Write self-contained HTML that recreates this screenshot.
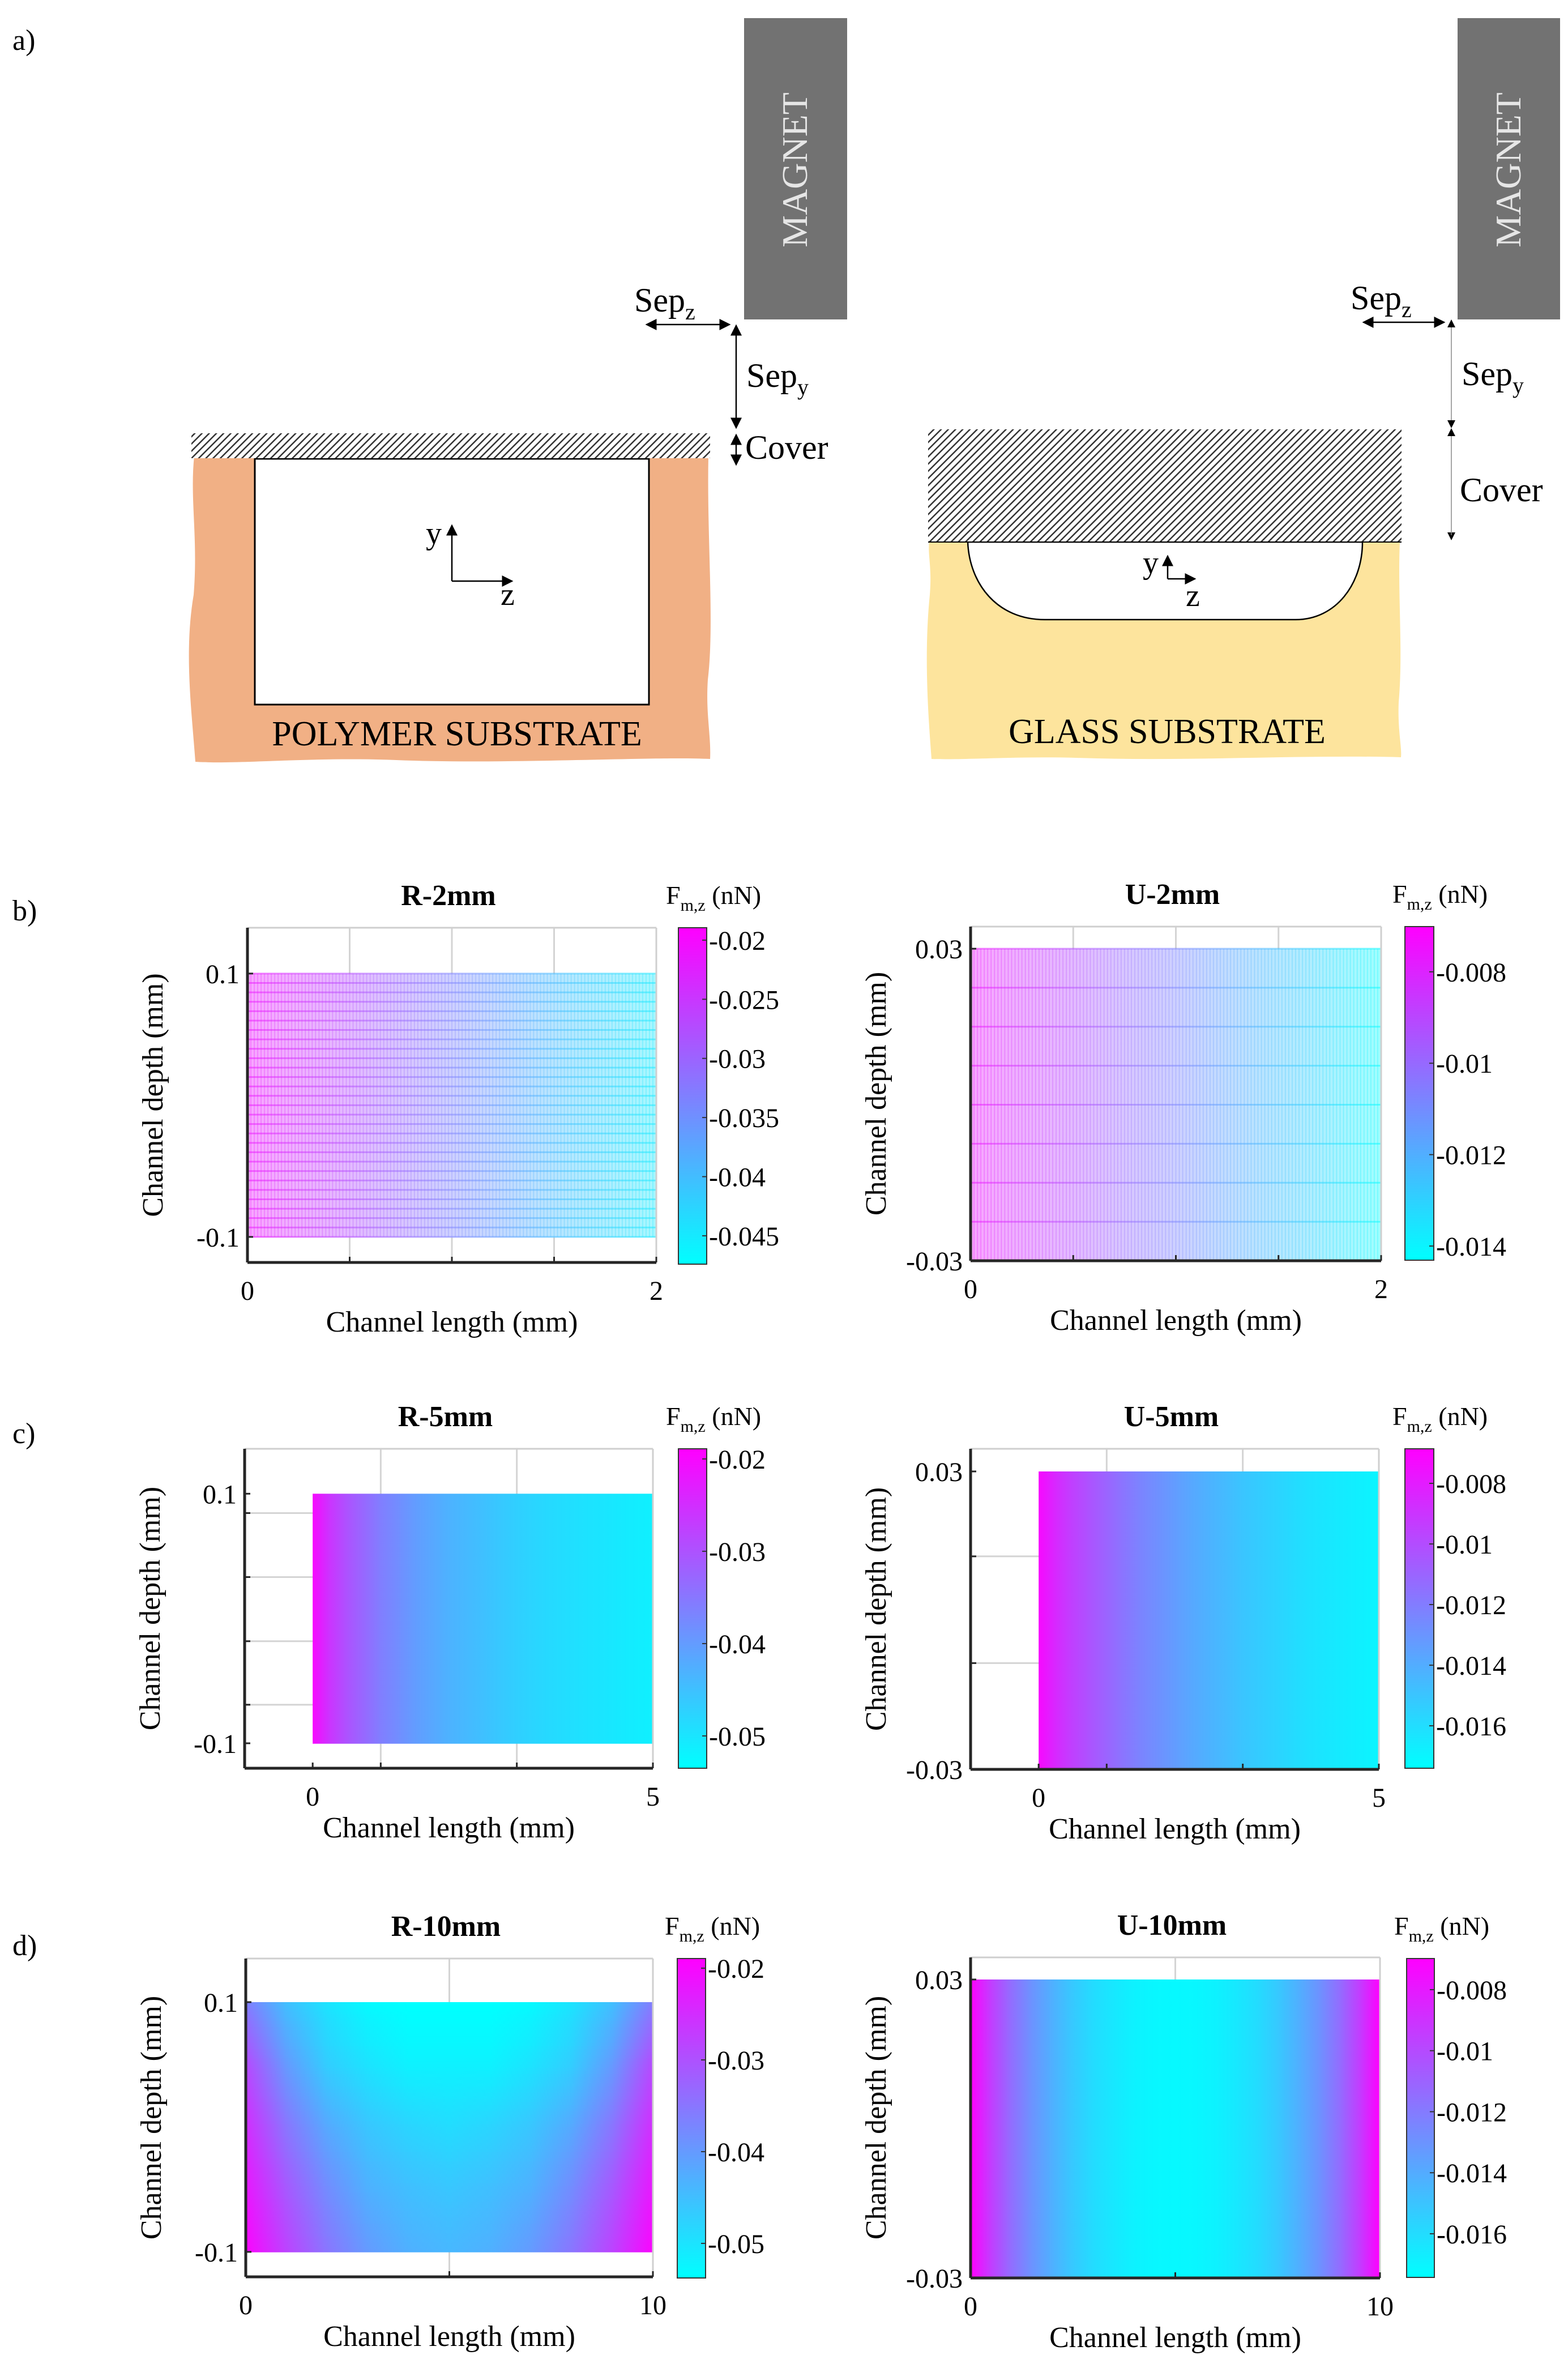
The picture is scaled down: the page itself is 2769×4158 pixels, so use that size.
<!DOCTYPE html>
<html><head><meta charset="utf-8">
<style>
html,body{margin:0;padding:0;background:#fff;}
svg{display:block;font-family:"Liberation Serif",serif;}
</style></head>
<body>
<svg id="fig" xmlns="http://www.w3.org/2000/svg" width="2769" height="4158" viewBox="0 0 2769 4158">
<defs>
<pattern id="hatch" width="9" height="9" patternUnits="userSpaceOnUse" patternTransform="rotate(45)">
<rect width="9" height="9" fill="#fff"/><line x1="0" y1="0" x2="0" y2="9" stroke="#333" stroke-width="5"/>
</pattern>
<marker id="ah" markerWidth="8" markerHeight="8" refX="7" refY="4" orient="auto-start-reverse" markerUnits="strokeWidth">
<path d="M0,0 L8,4 L0,8 z" fill="#000"/>
</marker>
</defs>
<rect width="2769" height="4158" fill="#fff"/>

<text x="22" y="88" font-size="52">a)</text>
<g>
<path d="M343,805 L1251,805 C1248,950 1262,1100 1250,1200 C1246,1260 1256,1300 1254,1340 C1150,1335 900,1350 700,1342 C550,1336 420,1350 345,1345 C338,1250 325,1150 342,1050 C350,950 335,880 343,805 Z" fill="#f1b085"/>
<rect x="450" y="810" width="696" height="434" fill="#fff" stroke="#000" stroke-width="3"/>
<rect x="338" y="765" width="916" height="44" fill="url(#hatch)"/>
<text x="807" y="1316" font-size="62" text-anchor="middle">POLYMER SUBSTRATE</text>
<line x1="798" y1="1026" x2="798" y2="928" stroke="#000" stroke-width="2.5" marker-end="url(#ah)"/>
<line x1="798" y1="1026" x2="904" y2="1026" stroke="#000" stroke-width="2.5" marker-end="url(#ah)"/>
<text x="752" y="960" font-size="56">y</text>
<text x="884" y="1068" font-size="56">z</text>
<rect x="1314" y="32" width="182" height="532" fill="#727272"/>
<text transform="translate(1425,300) rotate(-90)" font-size="64" fill="#e6e6e6" text-anchor="middle">MAGNET</text>
<line x1="1142" y1="573" x2="1288" y2="573" stroke="#000" stroke-width="2.5" marker-start="url(#ah)" marker-end="url(#ah)"/>
<line x1="1300" y1="575" x2="1300" y2="755" stroke="#000" stroke-width="2.5" marker-start="url(#ah)" marker-end="url(#ah)"/>
<line x1="1300" y1="768" x2="1300" y2="820" stroke="#000" stroke-width="2.5" marker-start="url(#ah)" marker-end="url(#ah)"/>
<text x="1120" y="550" font-size="60">Sep<tspan font-size="40" dy="14">z</tspan></text>
<text x="1318" y="683" font-size="60">Sep<tspan font-size="40" dy="14">y</tspan></text>
<text x="1316" y="810" font-size="60">Cover</text>
</g>

<g>
<path d="M1641,957 L2472,957 C2468,1050 2478,1150 2470,1240 C2468,1290 2476,1320 2474,1337 C2300,1332 2100,1345 1900,1338 C1800,1335 1700,1342 1645,1340 C1638,1250 1632,1150 1642,1050 C1646,1000 1638,980 1641,957 Z" fill="#fde49d"/>
<path d="M1709,957 L2406,957 C2406,1030 2360,1094 2288,1094 L1845,1094 C1760,1094 1712,1030 1709,957 Z" fill="#fff" stroke="#000" stroke-width="2.5"/>
<rect x="1639" y="758" width="836" height="199" fill="url(#hatch)"/>
<line x1="1639" y1="957" x2="2475" y2="957" stroke="#000" stroke-width="2"/>
<text x="2061" y="1312" font-size="62" text-anchor="middle">GLASS SUBSTRATE</text>
<line x1="2062" y1="1022" x2="2062" y2="982" stroke="#000" stroke-width="2.5" marker-end="url(#ah)"/>
<line x1="2062" y1="1022" x2="2110" y2="1022" stroke="#000" stroke-width="2.5" marker-end="url(#ah)"/>
<text x="2018" y="1012" font-size="56">y</text>
<text x="2094" y="1070" font-size="56">z</text>
<rect x="2574" y="32" width="181" height="532" fill="#727272"/>
<text transform="translate(2685,300) rotate(-90)" font-size="64" fill="#e6e6e6" text-anchor="middle">MAGNET</text>
<line x1="2408" y1="569" x2="2550" y2="569" stroke="#000" stroke-width="2.5" marker-start="url(#ah)" marker-end="url(#ah)"/>
<line x1="2563" y1="571" x2="2563" y2="750" stroke="#888" stroke-width="1.5"/>
<path d="M2556,742 L2570,742 L2563,756 Z M2556,770 L2570,770 L2563,756 Z M2556,940 L2570,940 L2563,954 Z M2556,578 L2570,578 L2563,564 Z" fill="#000"/>
<line x1="2563" y1="770" x2="2563" y2="945" stroke="#888" stroke-width="1.5"/>
<text x="2385" y="546" font-size="60">Sep<tspan font-size="40" dy="14">z</tspan></text>
<text x="2581" y="680" font-size="60">Sep<tspan font-size="40" dy="14">y</tspan></text>
<text x="2578" y="885" font-size="60">Cover</text>
</g>

<text x="22" y="1625" font-size="52">b)</text>
<text x="22" y="2548" font-size="52">c)</text>
<text x="22" y="3452" font-size="52">d)</text>
<g id="charts"></g>
</svg>

<script>
// ---- Data ----
const r2Lengths = [0,0.2,0.4,0.6,0.8,1.0,1.2,1.4,1.6,1.8,2.0];
const r2Force = [-0.021,-0.0235,-0.026,-0.0285,-0.031,-0.0335,-0.036,-0.0385,-0.041,-0.043,-0.045];
const r2ColorTicks = [-0.02,-0.025,-0.03,-0.035,-0.04,-0.045];
const r2ColorTickLabels = ["-0.02","-0.025","-0.03","-0.035","-0.04","-0.045"];

const u2Lengths = [0,0.2,0.4,0.6,0.8,1.0,1.2,1.4,1.6,1.8,2.0];
const u2Force = [-0.0075,-0.0082,-0.0088,-0.0095,-0.0102,-0.0108,-0.0115,-0.0122,-0.0128,-0.0135,-0.0142];
const u2ColorTicks = [-0.008,-0.01,-0.012,-0.014];
const u2ColorTickLabels = ["-0.008","-0.01","-0.012","-0.014"];

const r5Lengths = [0,0.25,0.5,0.75,1,1.25,1.5,1.75,2,2.25,2.5,2.75,3,3.25,3.5,3.75,4,4.25,4.5,4.75,5];
const r5Force = [-0.020,-0.026,-0.030,-0.033,-0.036,-0.038,-0.040,-0.0415,-0.043,-0.044,-0.045,-0.046,-0.047,-0.0478,-0.0485,-0.049,-0.0495,-0.050,-0.0505,-0.051,-0.0515];
const r5ColorTicks = [-0.02,-0.03,-0.04,-0.05];
const r5ColorTickLabels = ["-0.02","-0.03","-0.04","-0.05"];

const u5Lengths = [0,0.25,0.5,0.75,1,1.25,1.5,1.75,2,2.25,2.5,2.75,3,3.25,3.5,3.75,4,4.25,4.5,4.75,5];
const u5Force = [-0.0072,-0.0085,-0.0095,-0.0103,-0.0110,-0.0117,-0.0123,-0.0128,-0.0133,-0.0138,-0.0142,-0.0146,-0.0150,-0.0153,-0.0156,-0.0159,-0.0162,-0.0164,-0.0166,-0.0168,-0.0170];
const u5ColorTicks = [-0.008,-0.01,-0.012,-0.014,-0.016];
const u5ColorTickLabels = ["-0.008","-0.01","-0.012","-0.014","-0.016"];

const r10Lengths = [0,1,2,3,4,5,6,7,8,9,10];
const r10Depths = [0.1,0.05,0,-0.05,-0.1];
const r10ForceRow1 = [-0.036,-0.045,-0.050,-0.053,-0.054,-0.054,-0.054,-0.053,-0.050,-0.045,-0.036];
const r10ForceRow2 = [-0.029,-0.040,-0.047,-0.050,-0.052,-0.052,-0.052,-0.050,-0.047,-0.040,-0.029];
const r10ForceRow3 = [-0.025,-0.035,-0.042,-0.046,-0.048,-0.049,-0.048,-0.046,-0.042,-0.035,-0.025];
const r10ForceRow4 = [-0.022,-0.031,-0.038,-0.043,-0.045,-0.046,-0.045,-0.043,-0.038,-0.031,-0.022];
const r10ForceRow5 = [-0.0195,-0.028,-0.035,-0.040,-0.043,-0.044,-0.043,-0.040,-0.035,-0.028,-0.0195];
const r10ColorTicks = [-0.02,-0.03,-0.04,-0.05];
const r10ColorTickLabels = ["-0.02","-0.03","-0.04","-0.05"];

const u10Lengths = [0,0.5,1,1.5,2,2.5,3,3.5,4,4.5,5,5.5,6,6.5,7,7.5,8,8.5,9,9.5,10];
const u10Force = [-0.0070,-0.0095,-0.0115,-0.0130,-0.0142,-0.0152,-0.0160,-0.0165,-0.0169,-0.0171,-0.0172,-0.0171,-0.0169,-0.0165,-0.0160,-0.0152,-0.0142,-0.0130,-0.0115,-0.0095,-0.0070];
const u10ColorTicks = [-0.008,-0.01,-0.012,-0.014,-0.016];
const u10ColorTickLabels = ["-0.008","-0.01","-0.012","-0.014","-0.016"];

// ---- Rendering ----
const NS = "http://www.w3.org/2000/svg";
const root = document.getElementById('charts');
function mk(tag, attrs, parent){ const e=document.createElementNS(NS,tag); for(const k in attrs) e.setAttribute(k,attrs[k]); (parent||root).appendChild(e); return e; }
function coolRGB(v, lo, hi){ let t=(v-lo)/(hi-lo); t=Math.max(0,Math.min(1,t)); return [255*t, 255*(1-t), 255]; }
function rgbStr(c, fade){ const f=fade||0; return 'rgb('+c.map(x=>Math.round(x*(1-f)+255*f)).join(',')+')'; }

let fid=0;
function drawChart(cfg, lengths, depths, rows, cTicks, cTickLabels){
  const g = mk('g', {});
  
  
  const sx = v => cfg.L + (v-cfg.xlim[0])/(cfg.xlim[1]-cfg.xlim[0])*(cfg.R-cfg.L);
  const sy = v => cfg.T + (cfg.ylim[1]-v)/(cfg.ylim[1]-cfg.ylim[0])*(cfg.B-cfg.T);
  const sc = v => cfg.cbT + (cfg.clim[1]-v)/(cfg.clim[1]-cfg.clim[0])*(cfg.cbB-cfg.cbT);
  fid++;
  cfg.gridX.forEach(v=>{ const l=mk('line',{x1:sx(v),x2:sx(v),y1:cfg.T,y2:cfg.B,stroke:'#d4d4d4','stroke-width':3},g);
      });
  cfg.gridY.forEach(v=>{ const l=mk('line',{x1:cfg.L,x2:cfg.R,y1:sy(v),y2:sy(v),stroke:'#d4d4d4','stroke-width':3},g);
      });
  const x0=sx(lengths[0]), x1=sx(lengths[lengths.length-1]);
  const yTop=sy(cfg.dataY[1]), yBot=sy(cfg.dataY[0]);
  const hm = mk('g',{},g);
  
  
  const nStrips = depths.length>1 ? 80 : 1;
  for(let s=0;s<nStrips;s++){
    let vals;
    if(depths.length>1){
      const yc = yTop + (yBot-yTop)*(s+0.5)/nStrips;
      const d = cfg.ylim[1] - (yc-cfg.T)/(cfg.B-cfg.T)*(cfg.ylim[1]-cfg.ylim[0]);
      let k=0; while(k<depths.length-2 && d < depths[k+1]) k++;
      let t=(depths[k]-d)/(depths[k]-depths[k+1]); t=Math.max(0,Math.min(1,t));
      vals = rows[k].map((v,i)=>v*(1-t)+rows[k+1][i]*t);
    } else vals = rows[0];
    const gid='hg'+fid+'_'+s;
    const lg = mk('linearGradient',{id:gid,gradientUnits:'userSpaceOnUse',x1:x0,x2:x1,y1:0,y2:0},hm);
    lengths.forEach((v,i)=>{ mk('stop',{offset:(sx(v)-x0)/(x1-x0),'stop-color':rgbStr(coolRGB(vals[i],cfg.clim[0],cfg.clim[1]),cfg.fade)},lg); });
    const ya = yTop + (yBot-yTop)*s/nStrips;
    const strip = mk('rect',{x:x0,y:ya,width:x1-x0,height:(yBot-yTop)/nStrips+0.8,fill:'url(#'+gid+')'},hm);
    
    
  }
  if(cfg.meshRows){
    const mg = mk('g',{},g);
    
    
    const gid='mg'+fid;
    const lg = mk('linearGradient',{id:gid,gradientUnits:'userSpaceOnUse',x1:x0,x2:x1,y1:0,y2:0},mg);
    lengths.forEach((v,i)=>{ mk('stop',{offset:(sx(v)-x0)/(x1-x0),'stop-color':rgbStr(coolRGB(rows[0][i],cfg.clim[0],cfg.clim[1]),0)},lg); });
    for(let k=0;k<=cfg.meshRows;k++){
      const y = yTop + (yBot-yTop)*k/cfg.meshRows;
      mk('line',{x1:x0,x2:x1,y1:y,y2:y,stroke:'url(#'+gid+')','stroke-width':3,'stroke-opacity':0.5},mg);
    }
    // fine vertical mesh texture
    const nv = cfg.meshCols;
    for(let k=0;k<=nv;k++){
      const x = x0 + (x1-x0)*k/nv;
      mk('line',{x1:x,x2:x,y1:yTop,y2:yBot,stroke:'url(#'+gid+')','stroke-width':1.5,'stroke-opacity':0.35},mg);
    }
  }
  mk('line',{x1:cfg.L,x2:cfg.R,y1:cfg.T,y2:cfg.T,stroke:'#cfcfcf','stroke-width':3},g);
  mk('line',{x1:cfg.R,x2:cfg.R,y1:cfg.T,y2:cfg.B,stroke:'#cfcfcf','stroke-width':3},g);
  const xa = mk('line',{x1:cfg.L,x2:cfg.R,y1:cfg.B,y2:cfg.B,stroke:'#262626','stroke-width':5},g);
   
  const ya = mk('line',{x1:cfg.L,x2:cfg.L,y1:cfg.T,y2:cfg.B,stroke:'#262626','stroke-width':5},g);
   
  cfg.gridX.concat(cfg.xTicks).forEach(v=>mk('line',{x1:sx(v),x2:sx(v),y1:cfg.B,y2:cfg.B-10,stroke:'#262626','stroke-width':3},g));
  cfg.gridY.concat(cfg.yTicks).forEach(v=>mk('line',{x1:cfg.L,x2:cfg.L+10,y1:sy(v),y2:sy(v),stroke:'#262626','stroke-width':3},g));
  cfg.xTicks.forEach((v,i)=>{ const t=mk('text',{x:sx(v),y:cfg.B+66,'font-size':48,'text-anchor':'middle'},g); t.textContent=cfg.xTickLabels[i];
      });
  cfg.yTicks.forEach((v,i)=>{ const t=mk('text',{x:cfg.L-14,y:sy(v)+17,'font-size':48,'text-anchor':'end'},g); t.textContent=cfg.yTickLabels[i];
      });
  const cx=(cfg.L+cfg.R)/2;
  const tt=mk('text',{x:cx-6,y:cfg.T-40,'font-size':52,'font-weight':'bold','text-anchor':'middle'},g); tt.textContent=cfg.title;
   
  const xl=mk('text',{x:cx,y:cfg.B+122,'font-size':52,'text-anchor':'middle'},g); xl.textContent='Channel length (mm)';
   
  const yl=mk('text',{x:0,y:0,'font-size':52,'text-anchor':'middle',transform:'translate('+(cfg.L-150)+','+((cfg.T+cfg.B)/2)+') rotate(-90)'},g); yl.textContent='Channel depth (mm)';
   
  const cg=mk('linearGradient',{id:'cb'+fid,x1:0,y1:0,x2:0,y2:1},g);
  mk('stop',{offset:0,'stop-color':'#ff00ff'},cg); mk('stop',{offset:1,'stop-color':'#00ffff'},cg);
  const cb=mk('rect',{x:cfg.cbL,y:cfg.cbT,width:cfg.cbR-cfg.cbL,height:cfg.cbB-cfg.cbT,fill:'url(#cb'+fid+')',stroke:'#333','stroke-width':2},g);
   
  cTicks.forEach((v,i)=>{ mk('line',{x1:cfg.cbR,x2:cfg.cbR-8,y1:sc(v),y2:sc(v),stroke:'#333','stroke-width':2},g);
    const t=mk('text',{x:cfg.cbR+4,y:sc(v)+17,'font-size':48},g); t.textContent=cTickLabels[i];
      });
  const cl=mk('text',{x:cfg.cbL-22,y:cfg.cbT-42,'font-size':46},g);
  cl.innerHTML='F<tspan font-size="30" dy="12">m,z</tspan><tspan dy="-12"> (nN)</tspan>';
   
}

drawChart({name:'chart-r-2mm',title:'R-2mm',L:437,R:1159,T:1638,B:2229,xlim:[0,2],ylim:[-0.1194,0.1348],dataY:[-0.1,0.1],
  gridX:[0.5,1,1.5],gridY:[],xTicks:[0,2],xTickLabels:['0','2'],yTicks:[0.1,-0.1],yTickLabels:['0.1','-0.1'],
  cbL:1198,cbR:1248,cbT:1638,cbB:2232,clim:[-0.0474,-0.01895],fade:0.62,meshRows:28,meshCols:120},
  r2Lengths,[0],[r2Force],r2ColorTicks,r2ColorTickLabels);
drawChart({name:'chart-u-2mm',title:'U-2mm',L:1714,R:2439,T:1636,B:2226,xlim:[0,2],ylim:[-0.03,0.03425],dataY:[-0.03,0.03],
  gridX:[0.5,1,1.5],gridY:[],xTicks:[0,2],xTickLabels:['0','2'],yTicks:[0.03,-0.03],yTickLabels:['0.03','-0.03'],
  cbL:2481,cbR:2532,cbT:1636,cbB:2225,clim:[-0.01431,-0.00701],fade:0.62,meshRows:8,meshCols:120},
  u2Lengths,[0],[u2Force],u2ColorTicks,u2ColorTickLabels);
drawChart({name:'chart-r-5mm',title:'R-5mm',L:432,R:1153,T:2558,B:3122,xlim:[-1,5],ylim:[-0.12,0.136],dataY:[-0.1,0.1],
  gridX:[1,3],gridY:[0.0845,0.0332,-0.0182,-0.0691],xTicks:[0,5],xTickLabels:['0','5'],yTicks:[0.1,-0.1],yTickLabels:['0.1','-0.1'],
  cbL:1198,cbR:1248,cbT:2558,cbB:3122,clim:[-0.0535,-0.0189],fade:0},
  r5Lengths,[0],[r5Force],r5ColorTicks,r5ColorTickLabels);
drawChart({name:'chart-u-5mm',title:'U-5mm',L:1714,R:2435,T:2558,B:3124,xlim:[-1,5],ylim:[-0.03,0.03456],dataY:[-0.03,0.03],
  gridX:[1,3],gridY:[0.0129,-0.0086],xTicks:[0,5],xTickLabels:['0','5'],yTicks:[0.03,-0.03],yTickLabels:['0.03','-0.03'],
  cbL:2481,cbR:2532,cbT:2558,cbB:3122,clim:[-0.0174,-0.00686],fade:0},
  u5Lengths,[0],[u5Force],u5ColorTicks,u5ColorTickLabels);
drawChart({name:'chart-r-10mm',title:'R-10mm',L:434,R:1153,T:3458,B:4020,xlim:[0,10],ylim:[-0.12,0.1349],dataY:[-0.1,0.1],
  gridX:[5],gridY:[],xTicks:[0,10],xTickLabels:['0','10'],yTicks:[0.1,-0.1],yTickLabels:['0.1','-0.1'],
  cbL:1196,cbR:1246,cbT:3458,cbB:4022,clim:[-0.05377,-0.01895],fade:0},
  r10Lengths,r10Depths,[r10ForceRow1,r10ForceRow2,r10ForceRow3,r10ForceRow4,r10ForceRow5],r10ColorTicks,r10ColorTickLabels);
drawChart({name:'chart-u-10mm',title:'U-10mm',L:1714,R:2437,T:3456,B:4022,xlim:[0,10],ylim:[-0.03,0.03444],dataY:[-0.03,0.03],
  gridX:[5],gridY:[],xTicks:[0,10],xTickLabels:['0','10'],yTicks:[0.03,-0.03],yTickLabels:['0.03','-0.03'],
  cbL:2484,cbR:2533,cbT:3458,cbB:4021,clim:[-0.01743,-0.00698],fade:0},
  u10Lengths,[0],[u10Force],u10ColorTicks,u10ColorTickLabels);
</script>
</body></html>
